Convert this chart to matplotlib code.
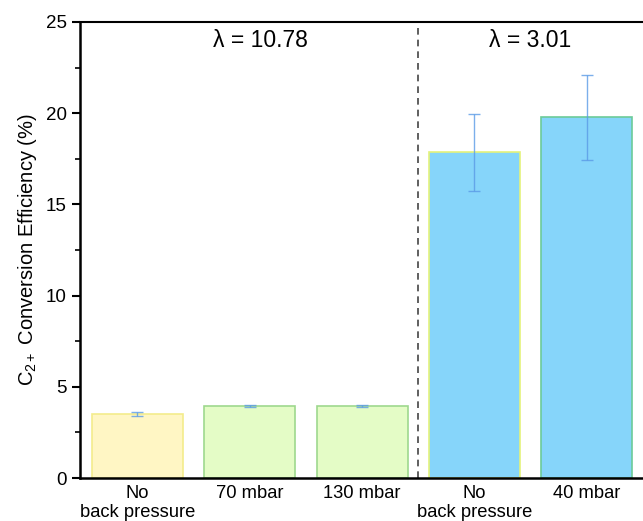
import numpy as np
import matplotlib
matplotlib.use("Agg")
import matplotlib.pyplot as plt
from matplotlib.ticker import MultipleLocator

plt.rcParams['font.family'] = ['Liberation Sans', 'DejaVu Sans']
plt.rcParams['mathtext.fontset'] = 'custom'
plt.rcParams['mathtext.rm'] = 'Liberation Sans'
plt.rcParams['mathtext.it'] = 'Liberation Sans:italic'

# data
labels = ["No\nback pressure", "70 mbar", "130 mbar", "No\nback pressure", "40 mbar"]
efficiency = [3.52, 3.95, 3.95, 17.86, 19.77]
errors = [0.12, 0.04, 0.03, 2.12, 2.35]
fill_colors = ["#FFF6C4", "#E4FCC6", "#E4FCC6", "#86D5FA", "#86D5FA"]
edge_colors = ["#F4EC8C", "#9ED88E", "#9ED88E", "#E4F27A", "#6CCB98"]
lambda_text = ["λ = 10.78", "λ = 3.01"]
lambda_x = [1.1, 3.5]

x = np.arange(len(labels))

fig = plt.figure(figsize=(6.43, 5.21), dpi=100)
ax = fig.add_axes([0.1244, 0.0825, 0.8756, 0.8753])

ax.bar(x, efficiency, width=0.81, color=fill_colors, edgecolor=edge_colors, linewidth=1.2, zorder=2)
ax.errorbar(x, efficiency, yerr=errors, fmt='none', ecolor='#5B9BE6', alpha=0.8,
            elinewidth=1.0, capsize=4.5, capthick=1.0, zorder=3)

ax.axvline(2.5, color='#444444', linestyle=(0, (4, 3)), linewidth=1.2, zorder=1)

for t, xx in zip(lambda_text, lambda_x):
    ax.text(xx, 24.0, t, ha='center', va='center', fontsize=16.5)

ax.set_xlim(-0.51, 4.5)
ax.set_ylim(0, 25)
ax.set_xticks(x)
ax.set_xticklabels(labels, fontsize=13.2, linespacing=1.12)
ax.yaxis.set_major_locator(MultipleLocator(5))
ax.yaxis.set_minor_locator(MultipleLocator(2.5))
ax.tick_params(axis='y', which='major', direction='out', length=6, width=1.5, labelsize=13.5)
ax.tick_params(axis='y', which='minor', direction='out', length=3.5, width=1.2)
ax.tick_params(axis='x', length=0, pad=5)
ax.set_ylabel("C$_{2+}$ Conversion Efficiency (%)", fontsize=14.5, labelpad=5)

ax.spines['left'].set_linewidth(1.8)
ax.spines['bottom'].set_linewidth(1.8)
ax.spines['top'].set_linewidth(1.5)
ax.spines['right'].set_visible(False)

fig.savefig("out.png", dpi=100)
